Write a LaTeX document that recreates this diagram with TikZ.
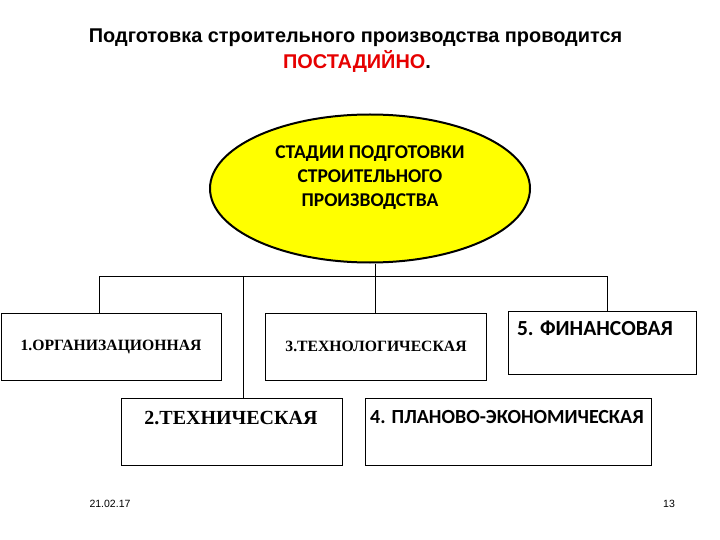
\documentclass[tikz,border=0pt]{standalone}
\usepackage{fontspec}
\setmainfont{Liberation Serif}
\newfontfamily\arialf{Liberation Sans}
\newfontfamily\calf{Carlito}
\newfontfamily\timesf{Liberation Serif}
\usetikzlibrary{shapes.geometric}
\definecolor{titlered}{RGB}{230,0,0}
\definecolor{ellyellow}{RGB}{255,255,0}
\tikzset{
  stagebox/.style={draw=black, line width=1pt, fill=white, inner sep=0pt},
  wire/.style={draw=black, line width=0.9pt},
  lbl/.style={inner sep=0pt, text=black},
}
\begin{document}
\begin{tikzpicture}[x=1pt,y=-1pt]
\useasboundingbox (0,0) rectangle (720,540);
% title
\node[lbl, font=\arialf\bfseries\fontsize{19.9}{23}\selectfont] (t1) at (355.5,38) {Подготовка строительного производства проводится};
\node[lbl, font=\arialf\bfseries\fontsize{19.9}{23}\selectfont, anchor=base] (t2) at (357,69) {\textcolor{titlered}{ПОСТАДИЙНО}.};
% ellipse
\node[ellipse, draw=black, line width=2pt, fill=ellyellow, minimum width=320, minimum height=148, inner sep=0pt] (ell) at (370,188.5) {};
\node[lbl, align=center, font=\calf\bfseries\fontsize{19.5}{24}\selectfont] (elltxt) at (370,178) {СТАДИИ ПОДГОТОВКИ\\СТРОИТЕЛЬНОГО\\ПРОИЗВОДСТВА};
% boxes
\node[stagebox, minimum width=220, minimum height=67] (b1) at (111,346.5) {};
\node[stagebox, minimum width=221, minimum height=67] (b3) at (375.5,346.5) {};
\node[stagebox, minimum width=188, minimum height=63] (b5) at (602,342.5) {};
\node[stagebox, minimum width=221, minimum height=67] (b2) at (231.5,431.5) {};
\node[stagebox, minimum width=286, minimum height=67] (b4) at (508,431.5) {};
% box texts
\node[lbl, font=\timesf\bfseries\fontsize{15.7}{18}\selectfont] (b1t) at (111,347) {1.ОРГАНИЗАЦИОННАЯ};
\node[lbl, font=\timesf\bfseries\fontsize{15.7}{18}\selectfont] (b3t) at (376,346) {3.ТЕХНОЛОГИЧЕСКАЯ};
\node[lbl, font=\calf\bfseries\fontsize{21.5}{24}\selectfont] (b5t) at (595,328) {5. ФИНАНСОВАЯ};
\node[lbl, font=\timesf\bfseries\fontsize{20}{23}\selectfont] (b2t) at (231,418) {2.ТЕХНИЧЕСКАЯ};
\node[lbl, font=\calf\bfseries\fontsize{20}{23}\selectfont] (b4t) at (507,417) {4. ПЛАНОВО-ЭКОНОМИЧЕСКАЯ};
% connectors
\coordinate (j1) at (99,276);
\coordinate (j2) at (243,276);
\coordinate (j5) at (607,276);
\draw[wire] (j1) -- (j5);
\draw[wire] (j1) -- (j1 |- b1.north);
\draw[wire] (j2) -- (j2 |- b2.north);
\draw[wire] (j5) -- (j5 |- b5.north);
\draw[wire] (b3.north |- ell.south) -- (b3.north);
% footer
\node[lbl, font=\arialf\fontsize{10.5}{12}\selectfont] (date) at (110,504) {21.02.17};
\node[lbl, font=\arialf\fontsize{10.5}{12}\selectfont] (page) at (669,504) {13};
\end{tikzpicture}
\end{document}
